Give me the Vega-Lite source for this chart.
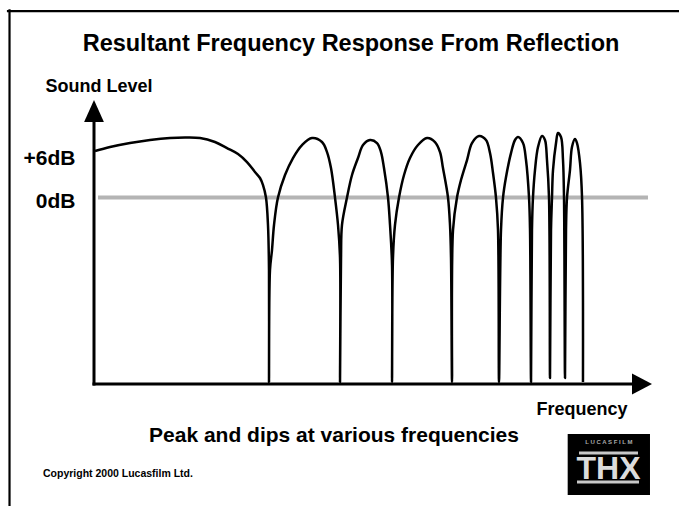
{
  "$schema": "https://vega.github.io/schema/vega-lite/v6.json",
  "width": 558,
  "height": 284,
  "autosize": "none",
  "padding": {"left": 94, "top": 100, "right": 27, "bottom": 122},
  "background": "white",
  "config": {"font": "Liberation Sans", "view": {"stroke": null}, "axis": {"grid": false}},
  "title": {"text": "Resultant Frequency Response From Reflection", "fontSize": 23.5, "fontWeight": "bold", "font": "Liberation Sans", "color": "black", "anchor": "middle", "frame": "group", "dx": -22, "offset": 0, "dy": 47},
  "datasets": {
    "curve": [
      {"i":1,"f":0.18,"db":6.48},{"i":2,"f":2.87,"db":7.04},{"i":3,"f":6.45,"db":7.6},{"i":4,"f":10.04,"db":8.02},{"i":5,"f":13.62,"db":8.3},{"i":6,"f":16.31,"db":8.37},{"i":7,"f":19.0,"db":8.3},{"i":8,"f":21.68,"db":7.74},{"i":9,"f":23.84,"db":6.9},{"i":10,"f":25.81,"db":6.07},{"i":11,"f":27.42,"db":4.95},{"i":12,"f":28.85,"db":3.56},{"i":13,"f":29.75,"db":2.72},{"i":14,"f":30.29,"db":1.74},{"i":15,"f":30.82,"db":0},{"i":16,"f":31.18,"db":-3.83},{"i":17,"f":31.36,"db":-10.11},{"i":18,"f":31.36,"db":-25.73},
      {"i":19,"f":31.54,"db":-10.11},{"i":20,"f":31.9,"db":-7.32},{"i":21,"f":32.26,"db":-3.83},{"i":22,"f":32.97,"db":0},{"i":23,"f":34.23,"db":3.14},{"i":24,"f":35.66,"db":5.51},{"i":25,"f":37.28,"db":7.32},{"i":26,"f":39.07,"db":8.3},{"i":27,"f":40.86,"db":7.74},{"i":28,"f":41.76,"db":6.34},{"i":29,"f":42.47,"db":4.11},{"i":30,"f":43.19,"db":0},{"i":31,"f":43.73,"db":-3.83},{"i":32,"f":44.09,"db":-8.44},{"i":33,"f":44.09,"db":-25.73},
      {"i":34,"f":44.27,"db":-8.44},{"i":35,"f":44.44,"db":-3.83},{"i":36,"f":45.34,"db":0},{"i":37,"f":46.24,"db":3.14},{"i":38,"f":47.31,"db":5.51},{"i":39,"f":48.21,"db":7.32},{"i":40,"f":49.46,"db":8.02},{"i":41,"f":50.72,"db":7.6},{"i":42,"f":51.43,"db":6.34},{"i":43,"f":51.97,"db":4.11},{"i":44,"f":52.69,"db":0},{"i":45,"f":53.05,"db":-3.83},{"i":46,"f":53.41,"db":-9.41},{"i":47,"f":53.41,"db":-25.73},
      {"i":48,"f":53.58,"db":-8.44},{"i":49,"f":53.94,"db":-3.83},{"i":50,"f":54.66,"db":0},{"i":51,"f":55.56,"db":3.14},{"i":52,"f":56.63,"db":5.51},{"i":53,"f":58.06,"db":7.32},{"i":54,"f":59.68,"db":8.3},{"i":55,"f":61.11,"db":7.74},{"i":56,"f":62.01,"db":6.34},{"i":57,"f":62.54,"db":4.11},{"i":58,"f":63.44,"db":0},{"i":59,"f":63.8,"db":-3.83},{"i":60,"f":63.98,"db":-8.44},{"i":61,"f":64.16,"db":-25.73},
      {"i":62,"f":64.34,"db":-4.53},{"i":63,"f":65.05,"db":0},{"i":64,"f":65.77,"db":2.44},{"i":65,"f":66.85,"db":5.23},{"i":66,"f":67.74,"db":7.6},{"i":67,"f":69.0,"db":8.58},{"i":68,"f":70.25,"db":8.02},{"i":69,"f":70.97,"db":6.2},{"i":70,"f":71.51,"db":3.42},{"i":71,"f":72.04,"db":0},{"i":72,"f":72.4,"db":-4.53},{"i":73,"f":72.58,"db":-25.73},
      {"i":74,"f":72.94,"db":-4.53},{"i":75,"f":73.3,"db":0},{"i":76,"f":73.84,"db":2.86},{"i":77,"f":74.73,"db":6.2},{"i":78,"f":75.45,"db":8.02},{"i":79,"f":75.99,"db":8.44},{"i":80,"f":76.88,"db":7.6},{"i":81,"f":77.42,"db":5.23},{"i":82,"f":77.96,"db":0},{"i":83,"f":78.14,"db":-4.53},{"i":84,"f":78.32,"db":-25.73},
      {"i":85,"f":78.49,"db":-4.53},{"i":86,"f":78.67,"db":0},{"i":87,"f":79.03,"db":3.83},{"i":88,"f":79.57,"db":7.04},{"i":89,"f":80.29,"db":8.58},{"i":90,"f":80.82,"db":8.02},{"i":91,"f":81.18,"db":5.23},{"i":92,"f":81.54,"db":0},{"i":93,"f":81.72,"db":-25.17},
      {"i":94,"f":81.9,"db":-4.53},{"i":95,"f":82.08,"db":0},{"i":96,"f":82.26,"db":3.83},{"i":97,"f":82.8,"db":7.6},{"i":98,"f":83.15,"db":8.99},{"i":99,"f":83.69,"db":8.44},{"i":100,"f":84.05,"db":5.23},{"i":101,"f":84.23,"db":0},{"i":102,"f":84.41,"db":-25.17},
      {"i":103,"f":84.59,"db":-4.53},{"i":104,"f":84.77,"db":0},{"i":105,"f":85.3,"db":3.83},{"i":106,"f":85.66,"db":7.04},{"i":107,"f":86.2,"db":8.16},{"i":108,"f":86.56,"db":7.6},{"i":109,"f":87.1,"db":4.81},{"i":110,"f":87.46,"db":0},{"i":111,"f":87.63,"db":-25.73}
    ],
    "axislines": [
      {"f": 0, "f2": 0, "db": -26, "db2": 12.5},
      {"f": 0, "f2": 98, "db": -26, "db2": -26}
    ],
    "arrowUp": [{"f": 0, "db": 13.6}],
    "arrowRight": [{"f": 100, "db": -26}],
    "reference": [{"f": 0.72, "f2": 99.28, "db": 0}],
    "frame": [
      {"f": -15.41, "f2": 105, "db": 26.0, "db2": 26.0},
      {"f": -15.14, "f2": -15.14, "db": 26.1, "db2": -44}
    ],
    "caption": [{"f": 43.01, "db": -34.09, "text": "Peak and dips at various frequencies"}],
    "copyright": [{"f": -9.14, "db": -38.97, "text": "Copyright 2000 Lucasfilm Ltd."}],
    "logoBox": [{"f": 84.89, "f2": 99.64, "db": -32.98, "db2": -41.48}],
    "logoBars": [{"f": 86.92, "f2": 97.49, "db": -35.62}, {"f": 86.56, "f2": 97.67, "db": -39.67}],
    "logoText": [{"f": 92.2, "db": -39.25, "text": "THX"}],
    "logoStrip": [{"f": 92.27, "db": -34.09, "text": "L U C A S F I L M"}]
  },
  "encoding": {
    "x": {"field": "f", "type": "quantitative", "scale": {"domain": [0, 100], "nice": false, "zero": false},
      "axis": {"labels": false, "ticks": false, "domain": false, "grid": false, "title": "Frequency", "titleX": 533, "titleY": 30, "titleAlign": "right", "titleBaseline": "alphabetic", "titleFontSize": 18, "titleFontWeight": "bold", "titleColor": "black", "titleFont": "Liberation Sans"}},
    "y": {"field": "db", "type": "quantitative", "scale": {"domain": [-26, 13.6], "nice": false, "zero": false},
      "axis": {"values": [0, 6], "labelExpr": "datum.value == 6 ? '+6dB' : '0dB'", "labelFontSize": 21, "labelFontWeight": "bold", "labelColor": "black", "labelFont": "Liberation Sans", "labelPadding": 19, "labelOffset": 3.5, "ticks": false, "domain": false, "grid": false, "title": "Sound Level", "titleAngle": 0, "titleAlign": "left", "titleBaseline": "alphabetic", "titleX": -49, "titleY": -9, "titleFontSize": 18, "titleFontWeight": "bold", "titleColor": "black", "titleFont": "Liberation Sans"}}
  },
  "layer": [
    {"data": {"name": "frame"}, "mark": {"type": "rule", "color": "black", "strokeWidth": 2.2, "strokeCap": "square"}, "encoding": {"x2": {"field": "f2"}, "y2": {"field": "db2"}}},
    {"data": {"name": "reference"}, "mark": {"type": "rule", "color": "#b4b4b4", "strokeWidth": 4}, "encoding": {"x2": {"field": "f2"}}},
    {"data": {"name": "curve"}, "mark": {"type": "line", "color": "black", "strokeWidth": 2.5, "strokeJoin": "round", "interpolate": "catmull-rom"}, "encoding": {"order": {"field": "i", "type": "quantitative"}}},
    {"data": {"name": "axislines"}, "mark": {"type": "rule", "color": "black", "strokeWidth": 3, "strokeCap": "square"}, "encoding": {"x2": {"field": "f2"}, "y2": {"field": "db2"}}},
    {"data": {"name": "arrowUp"}, "mark": {"type": "point", "filled": true, "color": "black", "opacity": 1, "size": 484, "shape": "M0,0L-0.9,2L0.9,2Z"}, "encoding": {}},
    {"data": {"name": "arrowRight"}, "mark": {"type": "point", "filled": true, "color": "black", "opacity": 1, "size": 400, "shape": "M0,0L-2,-1.05L-2,1.05Z"}, "encoding": {}},
    {"data": {"name": "caption"}, "mark": {"type": "text", "align": "center", "baseline": "alphabetic", "fontSize": 21, "fontWeight": "bold", "color": "black"}, "encoding": {"text": {"field": "text"}}},
    {"data": {"name": "copyright"}, "mark": {"type": "text", "align": "left", "baseline": "alphabetic", "fontSize": 10.5, "fontWeight": "bold", "color": "black"}, "encoding": {"text": {"field": "text"}}},
    {"data": {"name": "logoBox"}, "mark": {"type": "rect", "color": "black"}, "encoding": {"x2": {"field": "f2"}, "y2": {"field": "db2"}}},
    {"data": {"name": "logoBars"}, "mark": {"type": "rule", "color": "#c8c8c8", "strokeWidth": 3}, "encoding": {"x2": {"field": "f2"}}},
    {"data": {"name": "logoText"}, "mark": {"type": "text", "align": "center", "baseline": "alphabetic", "fontSize": 32, "fontWeight": "bold", "color": "#dcdcdc"}, "encoding": {"text": {"field": "text"}}},
    {"data": {"name": "logoStrip"}, "mark": {"type": "text", "align": "center", "baseline": "middle", "fontSize": 6, "fontWeight": "bold", "color": "#aaaaaa"}, "encoding": {"text": {"field": "text"}}}
  ]
}
